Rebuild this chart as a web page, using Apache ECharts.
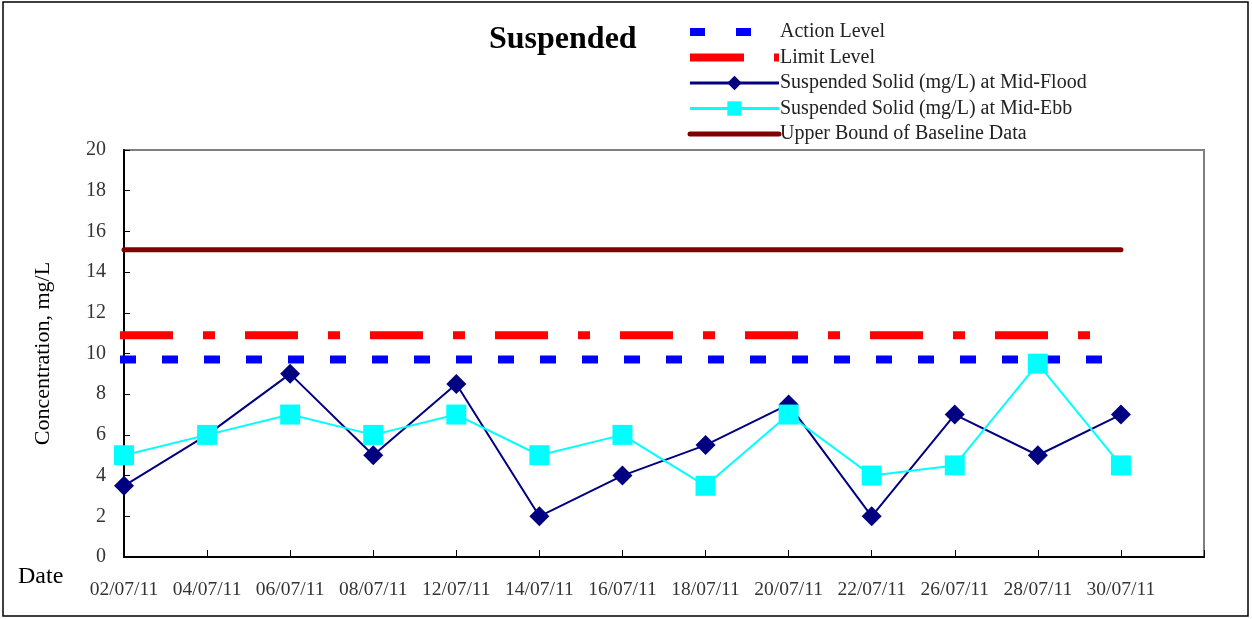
<!DOCTYPE html>
<html>
<head>
<meta charset="utf-8">
<script src="https://cdn.jsdelivr.net/npm/echarts@6/dist/echarts.min.js"></script>
<style>
html,body{margin:0;padding:0;background:#fff;}
#chart{width:1252px;height:619px;}
</style>
</head>
<body>
<div id="chart"></div>
<script>
const categories = ['02/07/11','04/07/11','06/07/11','08/07/11','12/07/11','14/07/11','16/07/11','18/07/11','20/07/11','22/07/11','26/07/11','28/07/11','30/07/11'];
const midFlood = [3.5, 6, 9, 5, 8.5, 2, 4, 5.5, 7.5, 2, 7, 5, 7];
const midEbb = [5, 6, 7, 6, 7, 5, 6, 3.5, 7, 4, 4.5, 9.5, 4.5];
const actionLevel = 9.7;
const limitLevel = 10.9;
const upperBound = 15.1;
const yTicks = [0, 2, 4, 6, 8, 10, 12, 14, 16, 18, 20];

const axisCats = categories.concat(['']);
const levelData = v => categories.map(() => v);
const FONT = '"Liberation Serif", "DejaVu Serif", serif';

const chart = echarts.init(document.getElementById('chart'));
chart.setOption({
  animation: false,
  backgroundColor: '#fff',
  title: {
    text: 'Suspended',
    left: 489, top: 24, padding: 0,
    textStyle: {fontFamily: FONT, fontSize: 32, fontWeight: 'bold', color: '#000'}
  },
  legend: {
    orient: 'vertical',
    left: 686, top: 22, padding: 0,
    itemWidth: 89, itemHeight: 18, itemGap: 5.5,
    textStyle: {fontFamily: FONT, fontSize: 20, color: '#222', padding: [0,0,0,-4]},
    data: [
      {name: 'Action Level', itemStyle: {opacity: 0}, lineStyle: {width: 8, type: [15, 31], cap: 'butt'}},
      {name: 'Limit Level', itemStyle: {opacity: 0}, lineStyle: {width: 8, type: [54, 30, 12, 30], cap: 'butt'}},
      {name: 'Suspended Solid (mg/L) at Mid-Flood', lineStyle: {width: 3}},
      {name: 'Suspended Solid (mg/L) at Mid-Ebb', lineStyle: {width: 3}},
      {name: 'Upper Bound of Baseline Data', itemStyle: {opacity: 0}, lineStyle: {width: 5}}
    ]
  },
  grid: {
    left: 124, right: 48, top: 150, bottom: 62,
    show: true, borderColor: '#808080', borderWidth: 2, backgroundColor: 'transparent'
  },
  xAxis: {
    type: 'category',
    data: axisCats,
    boundaryGap: false,
    axisLine: {lineStyle: {color: '#000', width: 2}},
    axisTick: {inside: true, length: 7, lineStyle: {color: '#000', width: 1}},
    axisLabel: {fontFamily: FONT, fontSize: 19.5, color: '#333', margin: 23, interval: 0},
    splitLine: {show: false}
  },
  yAxis: {
    type: 'value',
    min: 0, max: 20, interval: 2,
    name: 'Concentration, mg/L',
    nameLocation: 'middle',
    nameRotate: 90,
    nameGap: 70,
    nameTextStyle: {fontFamily: FONT, fontSize: 22, color: '#000'},
    axisLine: {show: true, lineStyle: {color: '#000', width: 2}},
    axisTick: {show: true, inside: true, length: 6, lineStyle: {color: '#000', width: 1}},
    axisLabel: {fontFamily: FONT, fontSize: 20, color: '#333', margin: 18,
      formatter: v => yTicks.indexOf(v) >= 0 ? String(v) : ''},
    splitLine: {show: false}
  },
  graphic: [
    {type: 'rect', shape: {x: 3, y: 2, width: 1245, height: 614},
     style: {fill: 'none', stroke: '#000', lineWidth: 1.5}, silent: true, z: -1},
    {type: 'text', left: 18, top: 565,
     style: {text: 'Date', fontFamily: FONT, fontSize: 24, fill: '#000'}}
  ],
  series: [
    {
      name: 'Upper Bound of Baseline Data', type: 'line', data: levelData(upperBound),
      symbol: 'none', color: '#800000',
      lineStyle: {color: '#800000', width: 5, cap: 'round'}, z: 2
    },
    {
      name: 'Action Level', type: 'line', data: levelData(actionLevel),
      symbol: 'none', color: '#0000FF',
      lineStyle: {color: '#0000FF', width: 8, type: [8, 34], cap: 'square'}, z: 2
    },
    {
      name: 'Limit Level', type: 'line', data: levelData(limitLevel),
      symbol: 'none', color: '#FF0000',
      lineStyle: {color: '#FF0000', width: 8, type: [45, 38, 4, 38], cap: 'square'}, z: 2
    },
    {
      name: 'Suspended Solid (mg/L) at Mid-Flood', type: 'line', data: midFlood,
      symbol: 'diamond', symbolSize: [20, 20], color: '#000080',
      itemStyle: {color: '#000080'},
      lineStyle: {color: '#000080', width: 2}, z: 3
    },
    {
      name: 'Suspended Solid (mg/L) at Mid-Ebb', type: 'line', data: midEbb,
      symbol: 'rect', symbolSize: [20, 20], color: '#00FFFF',
      itemStyle: {color: '#00FFFF'},
      lineStyle: {color: '#00FFFF', width: 2}, z: 4
    }
  ]
});
</script>
</body>
</html>
